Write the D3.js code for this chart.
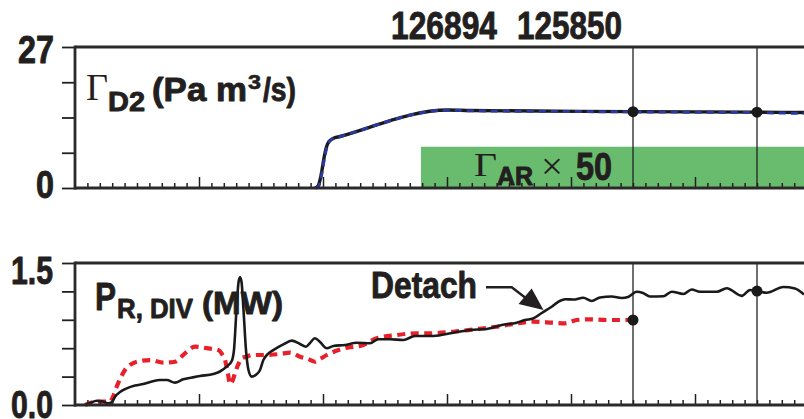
<!DOCTYPE html>
<html>
<head>
<meta charset="utf-8">
<script src="https://cdn.jsdelivr.net/npm/d3@7"></script>
<style>
  html, body { margin: 0; padding: 0; background: #fff; }
  svg { display: block; }
</style>
</head>
<body>
<svg id="chart" width="804" height="419"></svg>
<script>
// ---- Data -----------------------------------------------------------------
// Shot numbers shown above the panels
const shotLabels = ["126894", "125850"];

// Time axis ticks (s): minor every 0.1 s, major every 1 s
const tickMajor = [1, 2, 3, 4, 5];
const tickMinor = d3.range(1, 59).filter(i => i % 10 !== 0).map(i => i / 10);
// Times marked by the vertical cursors and dots
const markerTimes = [4.5, 5.5];

// Panel y ticks
const d2Ticks = [0, 6.75, 13.5, 20.25, 27];
const d2TickLabels = ["0", "27"];
const prTicks = [0, 0.3, 0.6, 0.9, 1.2, 1.5];
const prTickLabels = ["0.0", "1.5"];

// D2 puff rate (Pa m^3/s), shot 126894 (solid) and 125850 (dashed)
const d2TimeA = [1.935, 1.96, 1.976, 1.992, 2.008, 2.028, 2.048, 2.081, 2.137, 3.01, 3.185, 4.5, 5.5, 5.879];
const d2FlowA = [0, 0.38, 1.53, 3.45, 5.74, 7.85, 8.9, 9.48, 9.86, 14.94, 14.84, 14.62, 14.52, 14.46];
const d2TimeB = [1.94, 1.965, 1.98, 1.996, 2.012, 2.032, 2.052, 2.085, 2.14, 3.01, 3.185, 4.5, 5.5, 5.879];
const d2FlowB = [0, 0.38, 1.53, 3.45, 5.74, 7.85, 8.9, 9.48, 9.86, 14.9, 14.8, 14.58, 14.42, 14.3];

// Argon puff (x 50), step on from 2.79 s
const arTime = [2.79, 5.879];
const arFlow = [7.9, 7.9];

// Divertor radiated power (MW), shot 126894 (solid)
const prTimeA = [0.081, 0.121, 0.175, 0.226, 0.269, 0.298, 0.323, 0.363, 0.417, 0.484, 0.551, 0.621, 0.685, 0.74, 0.806, 0.873, 0.944, 1.008, 1.115, 1.169, 1.223, 1.264, 1.282, 1.302, 1.319, 1.331, 1.343, 1.359, 1.379, 1.399, 1.425, 1.46, 1.492, 1.519, 1.556, 1.599, 1.68, 1.748, 1.815, 1.863, 1.895, 1.935, 1.976, 2.03, 2.083, 2.177, 2.272, 2.379, 2.446, 2.54, 2.648, 2.742, 2.89, 3.051, 3.185, 3.32, 3.441, 3.562, 3.629, 3.694, 3.764, 3.844, 3.895, 3.952, 4.018, 4.099, 4.167, 4.234, 4.328, 4.409, 4.46, 4.53, 4.581, 4.637, 4.744, 4.812, 4.906, 4.973, 5.04, 5.175, 5.256, 5.377, 5.444, 5.5, 5.578, 5.712, 5.806, 5.879];
const prPowerA = [0, 0.02, 0.045, 0.037, 0.018, 0.03, 0.088, 0.137, 0.176, 0.206, 0.222, 0.248, 0.264, 0.264, 0.236, 0.271, 0.29, 0.306, 0.327, 0.354, 0.405, 0.465, 0.58, 1.0, 1.3, 1.35, 1.3, 1.0, 0.58, 0.37, 0.3, 0.32, 0.37, 0.475, 0.54, 0.58, 0.64, 0.68, 0.644, 0.616, 0.655, 0.705, 0.666, 0.6, 0.623, 0.634, 0.658, 0.652, 0.694, 0.694, 0.687, 0.729, 0.729, 0.764, 0.792, 0.803, 0.845, 0.869, 0.898, 0.914, 0.972, 1.038, 1.088, 1.117, 1.114, 1.133, 1.099, 1.136, 1.146, 1.13, 1.141, 1.197, 1.183, 1.146, 1.149, 1.197, 1.172, 1.22, 1.197, 1.197, 1.233, 1.153, 1.215, 1.204, 1.186, 1.246, 1.231, 1.167];

// Divertor radiated power (MW), shot 125850 (dashed)
const prTimeB = [0.081, 0.175, 0.282, 0.306, 0.336, 0.371, 0.403, 0.444, 0.498, 0.605, 0.712, 0.806, 0.887, 0.968, 1.062, 1.156, 1.185, 1.21, 1.234, 1.25, 1.27, 1.29, 1.315, 1.344, 1.385, 1.425, 1.519, 1.653, 1.734, 1.815, 1.879, 1.935, 1.976, 2.03, 2.177, 2.325, 2.433, 2.594, 2.756, 2.835, 3.051, 3.226, 3.401, 3.535, 3.696, 3.857, 3.952, 4.046, 4.153, 4.288, 4.395, 4.5];
const prPowerB = [0, 0.035, 0.035, 0.085, 0.193, 0.296, 0.37, 0.423, 0.457, 0.475, 0.447, 0.457, 0.546, 0.616, 0.6, 0.58, 0.539, 0.475, 0.327, 0.222, 0.254, 0.335, 0.423, 0.493, 0.51, 0.528, 0.528, 0.539, 0.553, 0.51, 0.486, 0.457, 0.486, 0.528, 0.6, 0.634, 0.704, 0.739, 0.757, 0.757, 0.774, 0.8, 0.827, 0.856, 0.88, 0.869, 0.863, 0.898, 0.905, 0.898, 0.898, 0.898];

// ---- Layout ---------------------------------------------------------------
const INK = "#231f20";
const SANS = "'Liberation Sans', Arial, Helvetica, sans-serif";
const SERIF = "'Liberation Serif', 'Times New Roman', serif";

const plotLeft = 75, plotRight = 804;
const top1 = 47, bot1 = 188;
const top2 = 263, bot2 = 405;

const x = d3.scaleLinear().domain([0, 5.879]).range([plotLeft, plotRight]);
const yD2 = d3.scaleLinear().domain([0, 27]).range([bot1, top1]);
const yPr = d3.scaleLinear().domain([0, 1.5]).range([bot2, top2]);

const svg = d3.select("#chart");

function zip(ts, vs) { return ts.map((t, i) => [t, vs[i]]); }
function valueAt(ts, vs, t) {
  const i = d3.bisectLeft(ts, t);
  if (i <= 0) return vs[0];
  if (i >= ts.length) return vs[vs.length - 1];
  if (ts[i] === t) return vs[i];
  const f = (t - ts[i - 1]) / (ts[i] - ts[i - 1]);
  return vs[i - 1] + (vs[i] - vs[i - 1]) * f;
}

// Text helper: fixed font size, width fitted with textLength;
// bold sans text gets a thin outline for a heavier weight
function label(g, str, px, py, size, width, opts = {}) {
  const serif = opts.family === SERIF;
  const t = g.append("text")
    .attr("x", px).attr("y", py)
    .attr("font-family", opts.family || SANS)
    .attr("font-weight", serif ? "normal" : "bold")
    .attr("font-size", size)
    .attr("fill", INK)
    .text(str);
  if (!serif) t.attr("stroke", INK).attr("stroke-width", opts.stroke ?? 0.9).attr("stroke-linejoin", "round");
  if (width) t.attr("textLength", width).attr("lengthAdjust", "spacingAndGlyphs");
  return t;
}

// ---- Top panel: gas puff rates --------------------------------------------
const p1 = svg.append("g");

// Argon step drawn as a filled area
p1.append("path")
  .datum(zip(arTime, arFlow))
  .attr("fill", "#69bc6d")
  .attr("d", d3.area().curve(d3.curveStepAfter)
    .x(d => x(d[0])).y0(yD2(0)).y1(d => yD2(d[1])));

// Vertical cursors
markerTimes.forEach(t => {
  p1.append("line").attr("x1", x(t)).attr("x2", x(t))
    .attr("y1", top1).attr("y2", bot1)
    .attr("stroke", "#222").attr("stroke-width", 1.3);
});

const lineD2 = d3.line().curve(d3.curveMonotoneX).x(d => x(d[0])).y(d => yD2(d[1]));
p1.append("path").datum(zip(d2TimeA, d2FlowA))
  .attr("fill", "none").attr("stroke", "#1a1a1a").attr("stroke-width", 3.4)
  .attr("d", lineD2);
p1.append("path").datum(zip(d2TimeB, d2FlowB))
  .attr("fill", "none").attr("stroke", "#2b3a9e").attr("stroke-width", 3)
  .attr("stroke-dasharray", "7,5")
  .attr("d", lineD2);

markerTimes.forEach(t => {
  p1.append("circle").attr("cx", x(t)).attr("cy", yD2(valueAt(d2TimeA, d2FlowA, t)))
    .attr("r", 5.5).attr("fill", "#1a1a1a");
});

// ---- Bottom panel: divertor radiated power ---------------------------------
const p2 = svg.append("g");
markerTimes.forEach(t => {
  p2.append("line").attr("x1", x(t)).attr("x2", x(t))
    .attr("y1", top2).attr("y2", bot2)
    .attr("stroke", "#222").attr("stroke-width", 1.3);
});

const linePr = d3.line().curve(d3.curveMonotoneX).x(d => x(d[0])).y(d => yPr(d[1]));
p2.append("path").datum(zip(prTimeB, prPowerB))
  .attr("fill", "none").attr("stroke", "#e8202a").attr("stroke-width", 4.2)
  .attr("stroke-dasharray", "8,5.5")
  .attr("d", linePr);
p2.append("path").datum(zip(prTimeA, prPowerA))
  .attr("fill", "none").attr("stroke", "#1a1a1a").attr("stroke-width", 2.6)
  .attr("stroke-linejoin", "round")
  .attr("d", linePr);

// Dots: end of the dashed trace and solid trace at the second cursor
p2.append("circle").attr("cx", x(markerTimes[0]))
  .attr("cy", yPr(valueAt(prTimeB, prPowerB, markerTimes[0])))
  .attr("r", 5.5).attr("fill", "#1a1a1a");
p2.append("circle").attr("cx", x(markerTimes[1]))
  .attr("cy", yPr(valueAt(prTimeA, prPowerA, markerTimes[1])))
  .attr("r", 5.5).attr("fill", "#1a1a1a");

// ---- Axes and frames --------------------------------------------------------
function frame(g, yScale, ticks, yTop, yBot) {
  // left ticks (outside)
  g.append("g").attr("transform", `translate(${plotLeft},0)`)
    .call(d3.axisLeft(yScale).tickValues(ticks).tickSize(13).tickFormat(""))
    .call(a => a.select(".domain").remove())
    .call(a => a.selectAll("line").attr("stroke", INK).attr("stroke-width", 1.8));
  // bottom ticks (inside)
  g.append("g").attr("transform", `translate(0,${yBot})`)
    .call(d3.axisBottom(x).tickValues(tickMinor).tickSize(-5).tickFormat(""))
    .call(a => a.select(".domain").remove())
    .call(a => a.selectAll("line").attr("stroke", INK).attr("stroke-width", 1.5));
  g.append("g").attr("transform", `translate(0,${yBot})`)
    .call(d3.axisBottom(x).tickValues(tickMajor).tickSize(-11).tickFormat(""))
    .call(a => a.select(".domain").remove())
    .call(a => a.selectAll("line").attr("stroke", INK).attr("stroke-width", 1.5));
  // frame lines
  g.append("line").attr("x1", plotLeft).attr("x2", plotRight).attr("y1", yTop).attr("y2", yTop)
    .attr("stroke", "#2a2a2a").attr("stroke-width", 2.8);
  g.append("line").attr("x1", plotLeft).attr("x2", plotRight).attr("y1", yBot).attr("y2", yBot)
    .attr("stroke", "#2a2a2a").attr("stroke-width", 3.2);
  g.append("line").attr("x1", plotLeft).attr("x2", plotLeft).attr("y1", yTop - 1.4).attr("y2", yBot + 1.6)
    .attr("stroke", "#2a2a2a").attr("stroke-width", 2.8);
}
frame(p1, yD2, d2Ticks, top1, bot1);
frame(p2, yPr, prTicks, top2, bot2);

// Tick labels at the ends of each y range
const tl = svg.append("g");
label(tl, d2TickLabels[1], 18, yD2(27) + 16, 38, 36);
label(tl, d2TickLabels[0], 36, yD2(0) + 10, 38, 18);
label(tl, prTickLabels[1], 11, yPr(1.5) + 21, 38, 42);
label(tl, prTickLabels[0], 11, 418, 38, 42);

// Shot numbers
label(tl, shotLabels[0], 391, 39, 38, 106);
label(tl, shotLabels[1], 517, 39, 38, 105);

// Panel titles
label(tl, "\u0393", 86, 100, 37, 22, { family: SERIF });
label(tl, "D2", 108, 111, 28, 37);
label(tl, "(Pa m", 152, 101, 33, 95);
label(tl, "3", 248, 89, 21, 13, { stroke: 0.6 });
label(tl, "/s)", 263, 101, 33, 33);

label(tl, "P", 95, 310, 39, 21);
label(tl, "R, DIV", 117, 318, 28, 76);
label(tl, "(MW)", 202, 314, 32, 81);

label(tl, "\u0393", 474, 176, 34, 23, { family: SERIF });
label(tl, "AR", 497, 185, 25, 36);
label(tl, "\u00d7", 541, 179, 38, 22, { family: SERIF });
label(tl, "50", 576, 180, 39, 36);

// Detachment annotation with arrow
label(tl, "Detach", 371, 298, 36, 106);
tl.append("path")
  .attr("d", "M486,287.3 L511.7,287.3 L527,299")
  .attr("fill", "none").attr("stroke", INK).attr("stroke-width", 2.4);
tl.append("path")
  .attr("d", "M543.5,310 L518.5,304 L531.7,288.5 Z")
  .attr("fill", INK);
</script>
</body>
</html>
